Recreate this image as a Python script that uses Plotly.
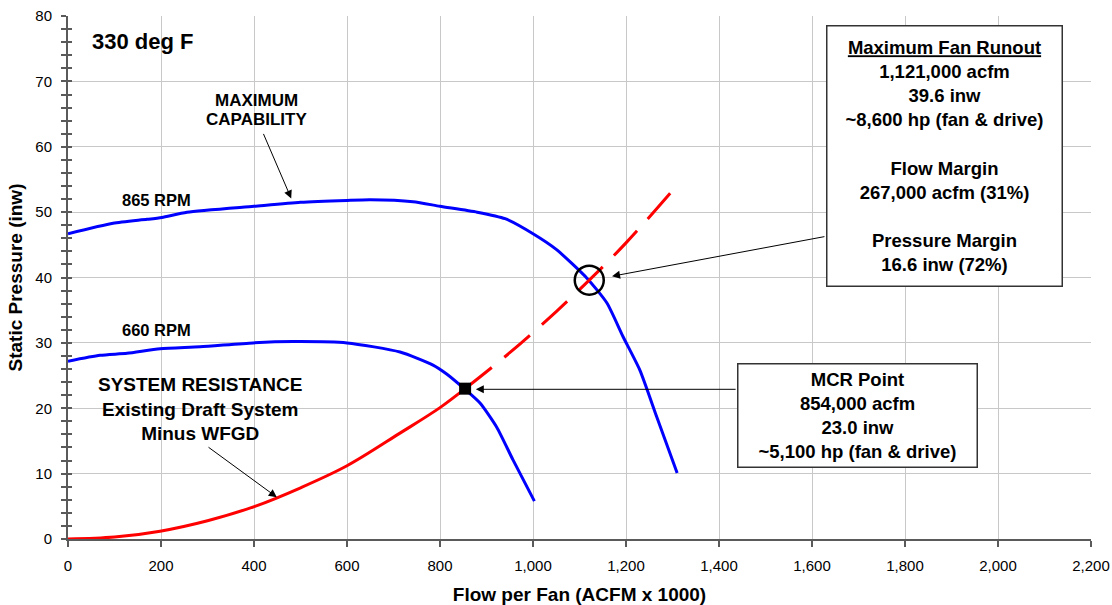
import plotly.graph_objects as go

# ---------------- data ----------------
rpm865_x = [0, 97, 170, 202, 256, 400, 500, 600, 650, 742, 800, 880, 940, 1000, 1050, 1116, 1159, 1194, 1230, 1266, 1310]
rpm865_y = [46.7, 48.3, 48.9, 49.2, 50.0, 50.9, 51.5, 51.8, 51.9, 51.6, 50.9, 50.0, 49.0, 46.7, 44.3, 39.9, 36.1, 30.9, 25.8, 18.7, 10.1]

rpm660_x = [0, 69, 127, 198, 284, 398, 484, 600, 714, 785, 815, 852, 886, 922, 957, 1003]
rpm660_y = [27.2, 28.1, 28.4, 29.1, 29.4, 30.0, 30.2, 30.0, 28.6, 26.6, 25.2, 23.0, 20.8, 17.1, 12.1, 5.8]

sys_x = [0, 100, 198, 300, 402, 499, 600, 714, 800, 854]
sys_y = [0, 0.3, 1.2, 2.8, 5.0, 7.8, 11.2, 16.2, 20.1, 23.0]

sys_ext_x = [854, 950, 1050, 1121, 1200, 1295]
sys_ext_y = [23.0, 28.5, 34.8, 39.6, 45.3, 52.9]

mcr_point = (854, 23.0)
runout_point = (1121, 39.6)

x_ticks = [0, 200, 400, 600, 800, 1000, 1200, 1400, 1600, 1800, 2000, 2200]
y_ticks = [0, 10, 20, 30, 40, 50, 60, 70, 80]

FONT = "Liberation Sans, Arial, sans-serif"
AXC = "#5a5a5a"

fig = go.Figure()
fig.add_trace(go.Scatter(x=rpm865_x, y=rpm865_y, mode="lines", line=dict(color="#0000ff", width=3, shape="spline", smoothing=0.6), showlegend=False))
fig.add_trace(go.Scatter(x=rpm660_x, y=rpm660_y, mode="lines", line=dict(color="#0000ff", width=3, shape="spline", smoothing=0.6), showlegend=False))
fig.add_trace(go.Scatter(x=sys_x, y=sys_y, mode="lines", line=dict(color="#ff0000", width=3, shape="spline"), showlegend=False))
fig.add_trace(go.Scatter(x=sys_ext_x, y=sys_ext_y, mode="lines", line=dict(color="#ff0000", width=3, shape="spline", dash="34px,16px"), showlegend=False))
fig.add_trace(go.Scatter(x=[mcr_point[0]], y=[mcr_point[1]], mode="markers", marker=dict(symbol="square", size=12, color="black"), showlegend=False))
fig.add_trace(go.Scatter(x=[runout_point[0]], y=[runout_point[1]], mode="markers", marker=dict(symbol="circle-open", size=29, color="black", line=dict(width=2.5, color="black")), showlegend=False))
# helper trace for the inner tick axis
fig.add_trace(go.Scatter(x=[None], y=[None], yaxis="y2", showlegend=False, hoverinfo="skip"))

fig.update_layout(
    width=1112, height=605,
    margin=dict(l=68, r=21, t=16, b=66),
    paper_bgcolor="white", plot_bgcolor="white",
    font=dict(family=FONT, color="black"),
    xaxis=dict(range=[0, 2200.01], tickvals=x_ticks, ticktext=[f"{v:,}" for v in x_ticks],
               showgrid=True, gridcolor="#c8c8c8", gridwidth=1,
               showline=True, linecolor=AXC, linewidth=2, ticks="outside", ticklen=6, tickcolor=AXC, tickwidth=1.5,
               tickfont=dict(size=15, family=FONT), ticklabelstandoff=6, ticklabeloverflow="allow",
               zeroline=False,
               title=dict(text="<b>Flow per Fan (ACFM x 1000)</b>", font=dict(size=19, family=FONT), standoff=16),
               automargin=False),
    yaxis=dict(range=[0, 80.01], tickvals=y_ticks, showgrid=True, gridcolor="#c8c8c8", gridwidth=1,
               showline=True, linecolor=AXC, linewidth=2, ticks="outside", ticklen=5, tickcolor=AXC, tickwidth=1.5,
               minor=dict(dtick=2, ticks="outside", ticklen=5, tickcolor=AXC, tickwidth=1.5, showgrid=False),
               tickfont=dict(size=15, family=FONT), ticklabelstandoff=6, ticklabeloverflow="allow",
               zeroline=False,
               title=dict(text="<b>Static Pressure (inw)</b>", font=dict(size=19, family=FONT), standoff=8),
               automargin=False),
    yaxis2=dict(range=[0, 80.01], overlaying="y", side="left", showgrid=False, showticklabels=False,
                showline=False, ticks="inside", ticklen=4, tickcolor=AXC, tickwidth=1.5, dtick=10, tick0=0,
                minor=dict(dtick=2, ticks="inside", ticklen=4, tickcolor=AXC, tickwidth=1.5, showgrid=False),
                zeroline=False),
)

ann = []
def label(text, x, y, size, xanchor="center"):
    ann.append(dict(x=x, y=y, xref="x", yref="y", text=text, showarrow=False, xanchor=xanchor, yanchor="middle",
                    font=dict(size=size, family=FONT, color="black", weight="bold")))

label("330 deg F", 47, 76.1, 22, xanchor="left")
label("MAXIMUM", 406, 67.15, 17)
label("CAPABILITY", 406, 64.25, 17)
label("865 RPM", 191, 51.8, 16.5)
label("660 RPM", 191, 32.0, 16.5)
label("SYSTEM RESISTANCE<br>Existing Draft System<br>Minus WFGD", 284, 19.9, 19)

def arrow(x0, y0, x1, y1):
    ann.append(dict(x=x1, y=y1, ax=x0, ay=y0, xref="x", yref="y", axref="x", ayref="y", text="",
                    showarrow=True, arrowhead=2, arrowsize=1.6, arrowwidth=1, arrowcolor="black", standoff=0))

arrow(1439, 22.9, 877, 22.9)
arrow(1630, 46.3, 1170, 40.2)
arrow(419, 62.2, 480, 52.1)
arrow(299, 14.2, 449, 6.4)

box_font = dict(size=18.5, family=FONT, color="black", weight="bold")
ann.append(dict(x=1884, y=58.66, xref="x", yref="y", showarrow=False, xanchor="center", yanchor="middle",
                text="<u>Maximum Fan Runout</u><br>1,121,000 acfm<br>39.6 inw<br>~8,600 hp (fan & drive)<br> <br>Flow Margin<br>267,000 acfm (31%)<br> <br>Pressure Margin<br>16.6 inw (72%)",
                font=box_font, bgcolor="white", bordercolor="#333333", borderwidth=1.5, borderpad=2,
                width=230, height=255))
ann.append(dict(x=1697, y=18.97, xref="x", yref="y", showarrow=False, xanchor="center", yanchor="middle",
                text="MCR Point<br>854,000 acfm<br>23.0 inw<br>~5,100 hp (fan & drive)",
                font=box_font, bgcolor="white", bordercolor="#333333", borderwidth=1.5, borderpad=2,
                width=234, height=98))

fig.update_layout(annotations=ann)
fig.write_html("out.html", config={"displayModeBar": False},
               post_script="document.body.style.margin='0';document.body.style.overflow='hidden';")
